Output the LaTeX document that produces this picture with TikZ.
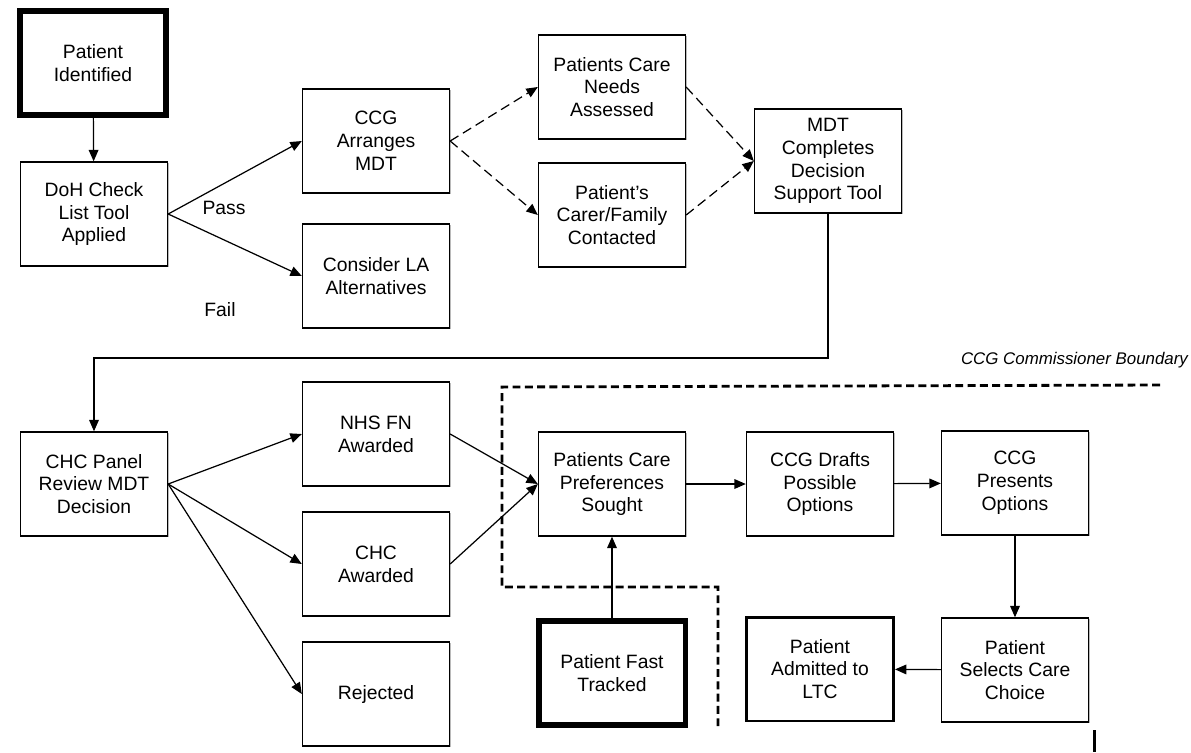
\documentclass[tikz,border=0pt]{standalone}
\usepackage{fontspec}
\setmainfont{Liberation Sans}
\usepackage{tikz}
\usetikzlibrary{arrows.meta,shadows}

\begin{document}
\begin{tikzpicture}
    % 结点样式:普通方框、粗框、中粗框
    [x=0.02cm,y=-0.02cm,
    BoxNode/.style={rectangle,draw=black,line width=0.8pt,fill=white,minimum width=2.94cm,minimum height=2.08cm,
        align=center,inner sep=1pt,font=\fontsize{11}{13}\selectfont,
        drop shadow={shadow xshift=0.8pt,shadow yshift=-0.8pt,fill=black!45,opacity=0.6}},
    ThickNode/.style={BoxNode,line width=3.4pt},
    MidNode/.style={BoxNode,line width=1.7pt},
    ArrLine/.style={-{Triangle[length=6.5pt,width=5.5pt]},line width=0.7pt},
    DashArr/.style={ArrLine,dash pattern=on 5.5pt off 3pt},
    BoundLine/.style={line width=1.6pt,dash pattern=on 4.5pt off 2.5pt}]

    % 画布范围
    \useasboundingbox (0,0) rectangle (1191,752);

    % 第一行:识别与检查
    \node[ThickNode] (pi) at (93,63) {Patient\\Identified};
    \node[BoxNode] (doh) at (94,214) {DoH Check\\List Tool\\Applied};
    \node[BoxNode] (ccg) at (376,141) {CCG\\Arranges\\MDT};
    \node[BoxNode] (la) at (376,276) {Consider LA\\Alternatives};
    \node[BoxNode] (pcna) at (612,87) {Patients Care\\Needs\\Assessed};
    \node[BoxNode] (fam) at (612,215) {Patient's\\Carer/Family\\Contacted};
    \node[BoxNode] (mdt) at (828,161) {MDT\\Completes\\Decision\\Support Tool};

    % 第二行:评审与结果
    \node[BoxNode] (panel) at (94,484) {CHC Panel\\Review MDT\\Decision};
    \node[BoxNode] (nhs) at (376,434) {NHS FN\\Awarded};
    \node[BoxNode] (chca) at (376,564) {CHC\\Awarded};
    \node[BoxNode] (rej) at (376,694) {Rejected};
    \node[BoxNode] (pref) at (612,484) {Patients Care\\Preferences\\Sought};
    \node[BoxNode] (draft) at (820,484) {CCG Drafts\\Possible\\Options};
    \node[BoxNode] (pres) at (1015,483) {CCG\\Presents\\Options};
    \node[BoxNode] (sel) at (1015,670) {Patient\\Selects Care\\Choice};
    \node[MidNode] (adm) at (820,669) {Patient\\Admitted to\\LTC};
    \node[ThickNode] (fast) at (612,673) {Patient Fast\\Tracked};

    % 说明文字
    \node[font=\fontsize{11}{13}\selectfont] (pass) at (224,208) {Pass};
    \node[font=\fontsize{11}{13}\selectfont] (fail) at (220,310) {Fail};
    \node[anchor=east,inner sep=1pt,font=\fontsize{9.6}{11}\selectfont\itshape] (bound) at (1190,360) {CCG Commissioner Boundary};

    % 连线
    \draw[ArrLine](pi)--(doh);
    \foreach \x in {ccg,la}
        \draw[ArrLine](doh.east)--(\x.west);
    \foreach \x in {pcna,fam}{
        \draw[DashArr](ccg.east)--(\x.west);
        \draw[DashArr](\x.east)--(mdt.west);
    }
    \draw[ArrLine](mdt.south)--(mdt.south |- 0,358)-|(panel.north);
    \foreach \x in {nhs,chca,rej}
        \draw[ArrLine](panel.east)--(\x.west);
    \foreach \x in {nhs,chca}
        \draw[ArrLine](\x.east)--(pref.west);
    \draw[ArrLine](pref)--(draft);
    \draw[ArrLine](draft)--(pres);
    \draw[ArrLine](pres)--(sel);
    \draw[ArrLine](sel)--(adm);
    \draw[ArrLine](fast)--(pref);

    % 委托边界虚线
    \draw[BoundLine](1160,385)--(502,387)--(502,587)--(718,587)--(718,728);
    \draw[line width=1.7pt](1094,730)--(1094,752);
\end{tikzpicture}
\end{document}
